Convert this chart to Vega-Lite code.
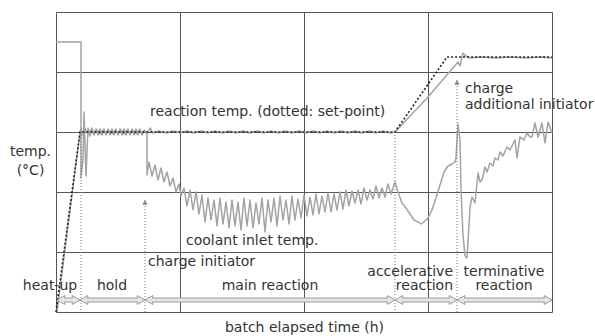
{
  "$schema": "https://vega.github.io/schema/vega-lite/v6.json",
  "width": 496,
  "height": 300,
  "autosize": "none",
  "padding": {"left": 56, "top": 12, "right": 43, "bottom": 24},
  "background": "white",
  "config": {
    "view": {"stroke": "#555", "strokeWidth": 1},
    "font": "DejaVu Sans",
    "axis": {"labels": false, "ticks": false, "domain": false, "grid": true, "gridColor": "#555", "gridOpacity": 1, "gridWidth": 1,
      "titleFont": "DejaVu Sans", "titleFontSize": 14, "titleFontWeight": "normal", "titleColor": "#333"},
    "text": {"font": "DejaVu Sans", "fontSize": 14, "fill": "#333"}
  },
  "datasets": {
    "setpoint": [
      {"x": 0, "y": 0}, {"x": 24, "y": 180}, {"x": 339, "y": 180}, {"x": 391, "y": 255}, {"x": 496, "y": 255}
    ],
    "reaction": [
      {"x": 1, "y": 0}, {"x": 23, "y": 172}, {"x": 25, "y": 184}, {"x": 27, "y": 177}, {"x": 29, "y": 183}, {"x": 32, "y": 178}, {"x": 35, "y": 182}, {"x": 38, "y": 178}, {"x": 41, "y": 182}, {"x": 44, "y": 178}, {"x": 47, "y": 182}, {"x": 50, "y": 178}, {"x": 53, "y": 182}, {"x": 56, "y": 178}, {"x": 59, "y": 182}, {"x": 62, "y": 178}, {"x": 65, "y": 182}, {"x": 68, "y": 178}, {"x": 71, "y": 182}, {"x": 74, "y": 178}, {"x": 77, "y": 182}, {"x": 80, "y": 178}, {"x": 83, "y": 182}, {"x": 86, "y": 178}, {"x": 89, "y": 181}, {"x": 92, "y": 179}, {"x": 94, "y": 184}, {"x": 97, "y": 179}, {"x": 103, "y": 181}, {"x": 110, "y": 179}, {"x": 117, "y": 181}, {"x": 124, "y": 179}, {"x": 131, "y": 181}, {"x": 138, "y": 179}, {"x": 145, "y": 181}, {"x": 152, "y": 179}, {"x": 159, "y": 181}, {"x": 166, "y": 179}, {"x": 173, "y": 181}, {"x": 180, "y": 179}, {"x": 187, "y": 181}, {"x": 194, "y": 179}, {"x": 201, "y": 181}, {"x": 208, "y": 179}, {"x": 215, "y": 181}, {"x": 222, "y": 179}, {"x": 229, "y": 181}, {"x": 236, "y": 179}, {"x": 243, "y": 181}, {"x": 250, "y": 179}, {"x": 257, "y": 181}, {"x": 264, "y": 179}, {"x": 271, "y": 181}, {"x": 278, "y": 179}, {"x": 285, "y": 181}, {"x": 292, "y": 179}, {"x": 299, "y": 181}, {"x": 306, "y": 179}, {"x": 313, "y": 181}, {"x": 320, "y": 179}, {"x": 327, "y": 181}, {"x": 334, "y": 179}, {"x": 339, "y": 180}, {"x": 372, "y": 215}, {"x": 402, "y": 250}, {"x": 404, "y": 246}, {"x": 407, "y": 259}, {"x": 410, "y": 256}, {"x": 414, "y": 254}, {"x": 425, "y": 255}, {"x": 440, "y": 254}, {"x": 455, "y": 255}, {"x": 470, "y": 254}, {"x": 485, "y": 255}, {"x": 496, "y": 254}
    ],
    "coolant": [
      {"x": 0, "y": 270}, {"x": 25, "y": 270}, {"x": 25, "y": 134}, {"x": 27, "y": 152}, {"x": 28, "y": 200}, {"x": 30, "y": 136}, {"x": 32, "y": 184}, {"x": 34, "y": 176}, {"x": 36, "y": 184}, {"x": 38, "y": 177}, {"x": 40, "y": 183}, {"x": 42, "y": 177}, {"x": 44, "y": 183}, {"x": 46, "y": 177}, {"x": 48, "y": 183}, {"x": 50, "y": 177}, {"x": 52, "y": 183}, {"x": 54, "y": 177}, {"x": 56, "y": 183}, {"x": 58, "y": 177}, {"x": 60, "y": 183}, {"x": 62, "y": 177}, {"x": 64, "y": 183}, {"x": 66, "y": 177}, {"x": 68, "y": 183}, {"x": 70, "y": 177}, {"x": 72, "y": 183}, {"x": 74, "y": 177}, {"x": 76, "y": 183}, {"x": 78, "y": 177}, {"x": 80, "y": 183}, {"x": 82, "y": 177}, {"x": 84, "y": 183}, {"x": 86, "y": 177}, {"x": 88, "y": 182}, {"x": 90, "y": 179}, {"x": 91, "y": 180}, {"x": 91, "y": 137}, {"x": 93, "y": 150}, {"x": 96, "y": 136}, {"x": 99, "y": 147}, {"x": 102, "y": 132}, {"x": 105, "y": 144}, {"x": 108, "y": 130}, {"x": 111, "y": 140}, {"x": 114, "y": 126}, {"x": 117, "y": 134}, {"x": 120, "y": 120}, {"x": 123, "y": 128}, {"x": 125, "y": 116}, {"x": 128, "y": 124}, {"x": 131, "y": 106}, {"x": 134, "y": 122}, {"x": 137, "y": 102}, {"x": 140, "y": 120}, {"x": 143, "y": 98}, {"x": 146, "y": 117}, {"x": 149, "y": 90}, {"x": 152, "y": 114}, {"x": 155, "y": 92}, {"x": 158, "y": 112}, {"x": 161, "y": 86}, {"x": 164, "y": 114}, {"x": 167, "y": 88}, {"x": 170, "y": 110}, {"x": 173, "y": 84}, {"x": 176, "y": 112}, {"x": 179, "y": 86}, {"x": 182, "y": 110}, {"x": 185, "y": 82}, {"x": 188, "y": 114}, {"x": 191, "y": 86}, {"x": 194, "y": 112}, {"x": 197, "y": 84}, {"x": 200, "y": 109}, {"x": 203, "y": 88}, {"x": 206, "y": 114}, {"x": 209, "y": 80}, {"x": 212, "y": 112}, {"x": 215, "y": 90}, {"x": 218, "y": 114}, {"x": 221, "y": 86}, {"x": 224, "y": 116}, {"x": 227, "y": 92}, {"x": 230, "y": 112}, {"x": 233, "y": 88}, {"x": 236, "y": 116}, {"x": 239, "y": 92}, {"x": 242, "y": 113}, {"x": 245, "y": 94}, {"x": 248, "y": 117}, {"x": 251, "y": 96}, {"x": 254, "y": 115}, {"x": 257, "y": 97}, {"x": 260, "y": 118}, {"x": 263, "y": 98}, {"x": 266, "y": 116}, {"x": 269, "y": 100}, {"x": 272, "y": 119}, {"x": 275, "y": 100}, {"x": 278, "y": 118}, {"x": 281, "y": 102}, {"x": 284, "y": 120}, {"x": 287, "y": 103}, {"x": 290, "y": 122}, {"x": 293, "y": 106}, {"x": 296, "y": 121}, {"x": 299, "y": 109}, {"x": 302, "y": 122}, {"x": 305, "y": 108}, {"x": 308, "y": 124}, {"x": 311, "y": 112}, {"x": 314, "y": 122}, {"x": 317, "y": 113}, {"x": 320, "y": 126}, {"x": 323, "y": 114}, {"x": 326, "y": 124}, {"x": 329, "y": 115}, {"x": 332, "y": 128}, {"x": 335, "y": 118}, {"x": 339, "y": 130}, {"x": 342, "y": 120}, {"x": 346, "y": 109}, {"x": 350, "y": 104}, {"x": 354, "y": 98}, {"x": 358, "y": 92}, {"x": 362, "y": 90}, {"x": 365, "y": 88}, {"x": 368, "y": 90}, {"x": 372, "y": 94}, {"x": 376, "y": 102}, {"x": 380, "y": 114}, {"x": 384, "y": 127}, {"x": 388, "y": 140}, {"x": 392, "y": 146}, {"x": 396, "y": 148}, {"x": 399, "y": 150}, {"x": 400, "y": 154}, {"x": 402, "y": 188}, {"x": 404, "y": 172}, {"x": 405, "y": 122}, {"x": 407, "y": 77}, {"x": 409, "y": 56}, {"x": 411, "y": 54}, {"x": 413, "y": 87}, {"x": 414, "y": 105}, {"x": 416, "y": 115}, {"x": 419, "y": 109}, {"x": 422, "y": 139}, {"x": 424, "y": 130}, {"x": 426, "y": 132}, {"x": 429, "y": 145}, {"x": 431, "y": 140}, {"x": 434, "y": 149}, {"x": 437, "y": 146}, {"x": 439, "y": 154}, {"x": 442, "y": 152}, {"x": 444, "y": 160}, {"x": 447, "y": 156}, {"x": 451, "y": 165}, {"x": 454, "y": 162}, {"x": 459, "y": 172}, {"x": 461, "y": 154}, {"x": 464, "y": 175}, {"x": 468, "y": 172}, {"x": 471, "y": 179}, {"x": 474, "y": 175}, {"x": 476, "y": 175}, {"x": 479, "y": 189}, {"x": 482, "y": 175}, {"x": 486, "y": 189}, {"x": 489, "y": 169}, {"x": 492, "y": 190}, {"x": 496, "y": 179}
    ],
    "markers": [
      {"x": 25, "top": 180},
      {"x": 89, "top": 112},
      {"x": 339, "top": 180},
      {"x": 401, "top": 232}
    ],
    "markerTips": [
      {"x": 89, "top": 112},
      {"x": 401, "top": 232}
    ],
    "phases": [
      {"phase": "heat-up", "start": 1, "end": 24},
      {"phase": "hold", "start": 24, "end": 89},
      {"phase": "main reaction", "start": 89, "end": 339},
      {"phase": "accelerative reaction", "start": 339, "end": 401},
      {"phase": "terminative reaction", "start": 401, "end": 496}
    ],
    "labelsLeft": [
      {"text": ["reaction temp. (dotted: set-point)"], "x": 94, "y": 207},
      {"text": ["coolant inlet temp."], "x": 130, "y": 78},
      {"text": ["charge initiator"], "x": 92, "y": 57},
      {"text": ["charge", "additional initiator"], "x": 409, "y": 230}
    ],
    "labelsCenter": [
      {"text": ["heat-up"], "x": -6, "y": 33},
      {"text": ["hold"], "x": 56, "y": 33},
      {"text": ["main reaction"], "x": 214, "y": 33},
      {"text": ["terminative", "reaction"], "x": 448, "y": 47}
    ],
    "labelsRight": [
      {"text": ["accelerative", "reaction"], "x": 397, "y": 47}
    ]
  },
  "layer": [
    {"data": {"name": "coolant"}, "mark": {"type": "line", "color": "#a3a3a3", "strokeWidth": 1.5, "strokeJoin": "round"},
      "encoding": {
        "x": {"field": "x", "type": "quantitative", "scale": {"domain": [0, 496], "nice": false, "zero": false},
          "axis": {"values": [124, 248, 372], "title": "batch elapsed time (h)", "titleX": 248, "titleY": 15, "titleBaseline": "middle", "titleAlign": "center"}},
        "y": {"field": "y", "type": "quantitative", "scale": {"domain": [0, 300], "nice": false, "zero": false},
          "axis": {"values": [60, 120, 180, 240], "title": ["temp.", "(°C)"], "titleAngle": 0, "titleX": -26, "titleY": 132, "titleBaseline": "top", "titleAlign": "center", "titleLineHeight": 19}},
        "order": {"value": 0}}},
    {"data": {"name": "reaction"}, "mark": {"type": "line", "color": "#a3a3a3", "strokeWidth": 1.5, "strokeJoin": "round"},
      "encoding": {"x": {"field": "x", "type": "quantitative"}, "y": {"field": "y", "type": "quantitative"}, "order": {"value": 0}}},
    {"data": {"name": "setpoint"}, "mark": {"type": "line", "color": "#222", "strokeWidth": 1.6, "strokeDash": [2, 2]},
      "encoding": {"x": {"field": "x", "type": "quantitative"}, "y": {"field": "y", "type": "quantitative"}, "order": {"value": 0}}},
    {"data": {"name": "markers"}, "mark": {"type": "rule", "color": "#777", "strokeWidth": 1, "strokeDash": [1, 2]},
      "encoding": {"x": {"field": "x", "type": "quantitative"}, "y": {"field": "top", "type": "quantitative"}, "y2": {"datum": 0}}},
    {"data": {"name": "markerTips"}, "mark": {"type": "point", "shape": "triangle-up", "size": 30, "filled": true, "color": "#888", "opacity": 1, "yOffset": 2.3},
      "encoding": {"x": {"field": "x", "type": "quantitative"}, "y": {"field": "top", "type": "quantitative"}}},
    {"data": {"name": "phases"}, "mark": {"type": "rule", "color": "#9a9a9a", "strokeWidth": 5, "strokeCap": "butt", "xOffset": 5, "x2Offset": -5},
      "encoding": {"x": {"field": "start", "type": "quantitative"}, "x2": {"field": "end"}, "y": {"datum": 12, "type": "quantitative"}}},
    {"data": {"name": "phases"}, "mark": {"type": "point", "shape": "triangle-left", "size": 80, "filled": true, "fill": "#e6e6e6", "stroke": "#9a9a9a", "strokeWidth": 1, "opacity": 1, "xOffset": 3.9},
      "encoding": {"x": {"field": "start", "type": "quantitative"}, "y": {"datum": 12, "type": "quantitative"}}},
    {"data": {"name": "phases"}, "mark": {"type": "point", "shape": "triangle-right", "size": 80, "filled": true, "fill": "#e6e6e6", "stroke": "#9a9a9a", "strokeWidth": 1, "opacity": 1, "xOffset": -3.9},
      "encoding": {"x": {"field": "end", "type": "quantitative"}, "y": {"datum": 12, "type": "quantitative"}}},
    {"data": {"name": "phases"}, "mark": {"type": "rule", "color": "#e6e6e6", "strokeWidth": 3, "strokeCap": "butt", "xOffset": 3, "x2Offset": -3},
      "encoding": {"x": {"field": "start", "type": "quantitative"}, "x2": {"field": "end"}, "y": {"datum": 12, "type": "quantitative"}}},
    {"data": {"name": "labelsLeft"}, "mark": {"type": "text", "align": "left", "baseline": "top", "lineHeight": 16},
      "encoding": {"x": {"field": "x", "type": "quantitative"}, "y": {"field": "y", "type": "quantitative"}, "text": {"field": "text"}}},
    {"data": {"name": "labelsCenter"}, "mark": {"type": "text", "align": "center", "baseline": "top", "lineHeight": 14},
      "encoding": {"x": {"field": "x", "type": "quantitative"}, "y": {"field": "y", "type": "quantitative"}, "text": {"field": "text"}}},
    {"data": {"name": "labelsRight"}, "mark": {"type": "text", "align": "right", "baseline": "top", "lineHeight": 14},
      "encoding": {"x": {"field": "x", "type": "quantitative"}, "y": {"field": "y", "type": "quantitative"}, "text": {"field": "text"}}}
  ]
}
